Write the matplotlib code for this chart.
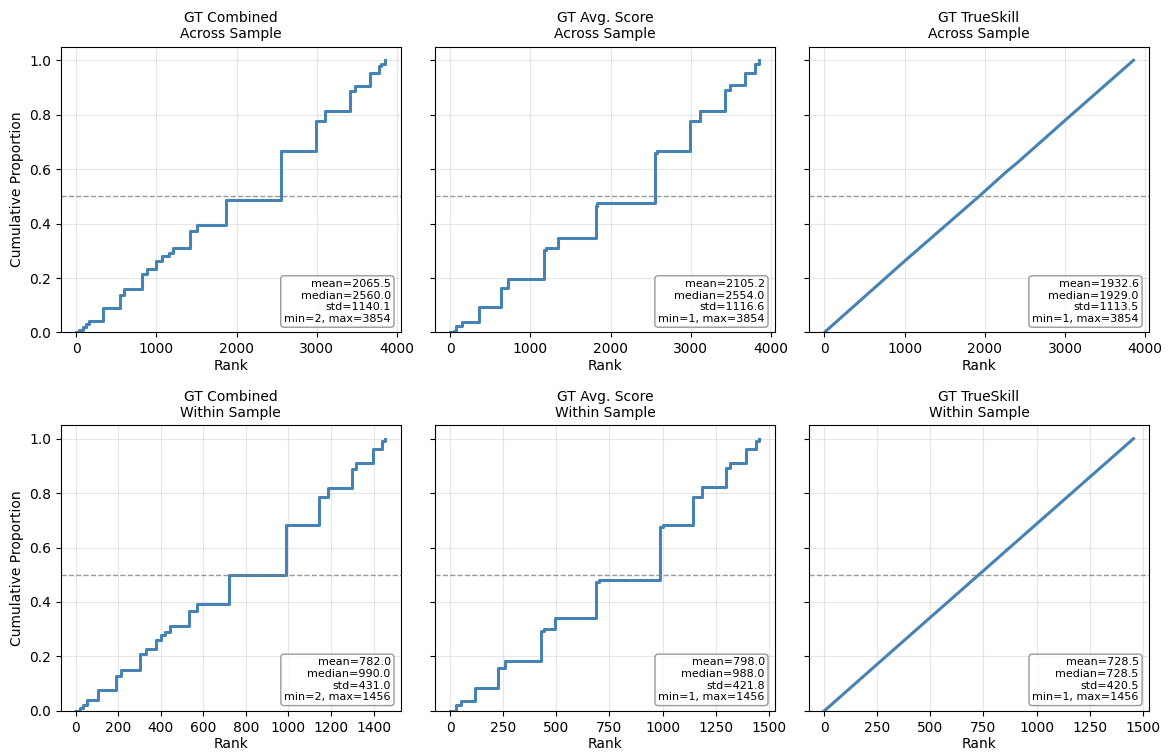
"""
Rank ECDF grid: GT Combined / Avg. Score / TrueSkill, across and within sample
"""
import matplotlib
matplotlib.use('Agg')
import matplotlib.pyplot as plt

plt.rcParams['font.size'] = 10

# --- data (step corners: rank, cumulative proportion after the jump) ---
combined_across_rank = [2, 40, 80, 120, 165, 331, 545, 595, 818, 884, 1000, 1066, 1157, 1207,
                        1421, 1512, 1868, 2555, 2983, 3099, 3417, 3479, 3657, 3777, 3800, 3854]
combined_across_prop = [0.0, 0.008, 0.02, 0.03, 0.041, 0.090, 0.139, 0.161, 0.213, 0.232, 0.261,
                        0.280, 0.293, 0.312, 0.371, 0.395, 0.488, 0.668, 0.777, 0.813, 0.888,
                        0.907, 0.954, 0.978, 0.988, 1.0]

avg_across_rank = [1, 41, 71, 145, 353, 627, 718, 1170, 1199, 1349, 1813, 1834, 2554, 2577,
                   2992, 3108, 3427, 3489, 3676, 3796, 3854]
avg_across_prop = [0.0, 0.006, 0.022, 0.039, 0.094, 0.163, 0.195, 0.302, 0.312, 0.346, 0.466,
                   0.476, 0.661, 0.667, 0.776, 0.813, 0.890, 0.909, 0.954, 0.985, 1.0]

trueskill_across_rank = [1, 1000, 1929, 2200, 2300, 2400, 3000, 3854]
trueskill_across_prop = [0.0, 0.262, 0.5, 0.572, 0.598, 0.622, 0.779, 1.0]

combined_within_rank = [2, 19, 35, 50, 104, 188, 210, 301, 330, 377, 402, 421, 443, 534, 568,
                        719, 990, 1144, 1187, 1300, 1319, 1397, 1441, 1456]
combined_within_prop = [0.0, 0.01, 0.022, 0.039, 0.076, 0.129, 0.150, 0.207, 0.229, 0.262, 0.278,
                        0.288, 0.310, 0.366, 0.393, 0.498, 0.683, 0.785, 0.820, 0.890, 0.910,
                        0.963, 0.991, 1.0]

avg_within_rank = [1, 27, 52, 115, 225, 259, 426, 440, 493, 688, 699, 988, 1003, 1143, 1187,
                   1299, 1316, 1393, 1440, 1456]
avg_within_prop = [0.0, 0.02, 0.037, 0.083, 0.156, 0.183, 0.293, 0.300, 0.341, 0.473, 0.482,
                   0.677, 0.684, 0.785, 0.821, 0.893, 0.910, 0.961, 0.993, 1.0]

trueskill_within_rank = [1, 364, 728, 1092, 1456]
trueskill_within_prop = [0.0, 0.25, 0.5, 0.75, 1.0]

methods = ['GT Combined', 'GT Avg. Score', 'GT TrueSkill']
scopes = ['Across Sample', 'Within Sample']

stats_text = [
    ['mean=2065.5\nmedian=2560.0\nstd=1140.1\nmin=2, max=3854',
     'mean=2105.2\nmedian=2554.0\nstd=1116.6\nmin=1, max=3854',
     'mean=1932.6\nmedian=1929.0\nstd=1113.5\nmin=1, max=3854'],
    ['mean=782.0\nmedian=990.0\nstd=431.0\nmin=2, max=1456',
     'mean=798.0\nmedian=988.0\nstd=421.8\nmin=1, max=1456',
     'mean=728.5\nmedian=728.5\nstd=420.5\nmin=1, max=1456'],
]

series = [
    [(combined_across_rank, combined_across_prop),
     (avg_across_rank, avg_across_prop),
     (trueskill_across_rank, trueskill_across_prop)],
    [(combined_within_rank, combined_within_prop),
     (avg_within_rank, avg_within_prop),
     (trueskill_within_rank, trueskill_within_prop)],
]

# --- plot ---
fig, axes = plt.subplots(2, 3, figsize=(11.7, 7.53), dpi=100, sharey=True)
fig.subplots_adjust(left=0.052, right=0.982, top=0.938, bottom=0.056, wspace=0.1, hspace=0.324)

for r in range(2):
    for c in range(3):
        ax = axes[r, c]
        x, y = series[r][c]
        if c == 2:
            ax.plot(x, y, color='steelblue', linewidth=2.2)
        else:
            ax.step(x, y, where='post', color='steelblue', linewidth=2.2)
        ax.axhline(0.5, color='gray', linestyle='--', linewidth=1, alpha=0.8)
        ax.set_title(f'{methods[c]}\n{scopes[r]}', fontsize=10)
        ax.set_xlabel('Rank', labelpad=2)
        ax.grid(True, alpha=0.3)
        ax.set_ylim(0, 1.05)
        ax.text(0.97, 0.03, stats_text[r][c], transform=ax.transAxes,
                ha='right', va='bottom', fontsize=8, multialignment='right',
                bbox=dict(boxstyle='round,pad=0.3', facecolor='white',
                          edgecolor='gray', alpha=0.8))
        if c == 0:
            ax.set_ylabel('Cumulative Proportion')

fig.savefig('out.png', dpi=100)
plt.close(fig)
